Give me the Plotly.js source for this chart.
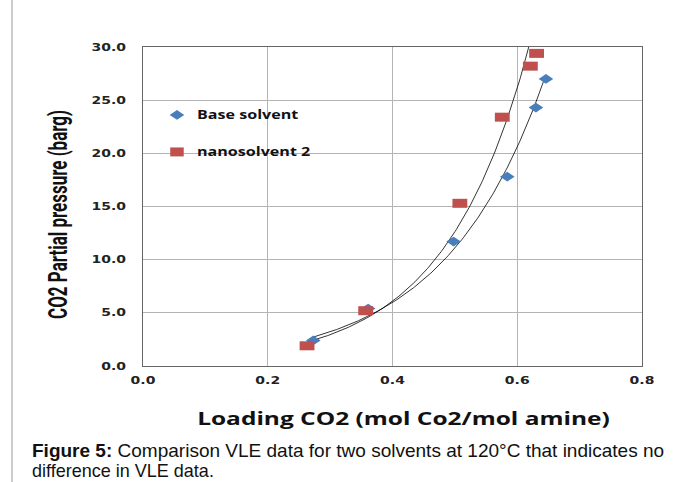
<!DOCTYPE html>
<html>
<head>
<meta charset="utf-8">
<script src="https://cdn.plot.ly/plotly-3.0.1.min.js"></script>
<style>html,body{margin:0;padding:0;background:#fff;}#chart{width:683px;height:482px;}</style>
</head>
<body>
<div id="chart"></div>
<script>
// Data
const seriesNames = ["Base solvent", "nanosolvent 2"];
const baseLoading = [0.273, 0.361, 0.498, 0.584, 0.630, 0.646];
const basePressure = [2.4, 5.4, 11.7, 17.8, 24.3, 27.0];
const nanoLoading = [0.263, 0.357, 0.508, 0.576, 0.621, 0.631];
const nanoPressure = [1.9, 5.2, 15.3, 23.4, 28.2, 29.4];
const xTickVals = [0.0, 0.2, 0.4, 0.6, 0.8];
const yTickVals = [0, 5, 10, 15, 20, 25, 30];

// Exponential trendline (least squares on ln y), like a spreadsheet trendline
function expFit(xs, ys) {
  const n = xs.length;
  let sx = 0, sy = 0, sxx = 0, sxy = 0;
  for (let i = 0; i < n; i++) {
    const ly = Math.log(ys[i]);
    sx += xs[i]; sy += ly; sxx += xs[i] * xs[i]; sxy += xs[i] * ly;
  }
  const b = (n * sxy - sx * sy) / (n * sxx - sx * sx);
  const a = Math.exp((sy - b * sx) / n);
  return x => a * Math.exp(b * x);
}
function trend(xs, ys) {
  const f = expFit(xs, ys);
  const x0 = Math.min(...xs), x1 = Math.max(...xs);
  const tx = [], ty = [];
  for (let i = 0; i <= 200; i++) {
    const x = x0 + (x1 - x0) * i / 200;
    tx.push(x); ty.push(f(x));
  }
  return {tx, ty};
}
const tb = trend(baseLoading, basePressure);
const tn = trend(nanoLoading, nanoPressure);

const traces = [
  {x: tb.tx, y: tb.ty, mode: 'lines', line: {color: '#000', width: 0.8}, showlegend: false, hoverinfo: 'skip'},
  {x: tn.tx, y: tn.ty, mode: 'lines', line: {color: '#000', width: 0.8}, showlegend: false, hoverinfo: 'skip'},
  {x: baseLoading, y: basePressure, mode: 'markers', name: seriesNames[0], legendgroup: 'a',
   marker: {symbol: 'diamond', size: 7.5, color: '#4a7ebb'}},
  {x: nanoLoading, y: nanoPressure, mode: 'markers', name: seriesNames[1], legendgroup: 'b',
   marker: {symbol: 'square', size: 9, color: '#c0504d'}}
];

const tickFont = {family: 'DejaVu Sans', size: 10, color: '#222', weight: 'bold'};
const layout = {
  width: 683, height: 482,
  margin: {l: 143, r: 41, t: 47, b: 116},
  paper_bgcolor: '#fff', plot_bgcolor: '#fff',
  showlegend: true,
  legend: {x: 0.028, y: 0.8325, xanchor: 'left', yanchor: 'top', bgcolor: 'rgba(0,0,0,0)',
    traceorder: 'grouped', tracegroupgap: 18,
    font: {family: 'Open Sans', size: 11.5, color: '#111', weight: 'bold'}},
  xaxis: {range: [0, 0.8], tickvals: xTickVals, tickformat: '.1f', showgrid: true,
    gridcolor: '#b4b4b4', gridwidth: 1, zeroline: false, showline: true, linecolor: '#666',
    linewidth: 1, mirror: true, ticks: '', ticklabelstandoff: 5, tickfont: tickFont,
    title: {text: 'Loading CO2 (mol Co2/mol amine)', standoff: 27,
      font: {family: 'Open Sans', size: 17.5, color: '#111', weight: 'bold'}}},
  yaxis: {range: [0, 30], tickvals: yTickVals, tickformat: '.1f', showgrid: true,
    gridcolor: '#b4b4b4', gridwidth: 1, zeroline: false, showline: true, linecolor: '#666',
    linewidth: 1, mirror: true, ticks: '', ticklabelstandoff: 14, tickfont: tickFont,
    title: {text: 'CO2 Partial pressure (barg)', standoff: 32,
      font: {family: 'Liberation Sans Narrow, Roboto, sans-serif', size: 17, color: '#111', weight: 'bold'}}},
  shapes: [
    {type: 'line', xref: 'paper', yref: 'paper', x0: -0.2625, x1: -0.2625, y0: -0.37, y1: 1.15,
     line: {color: '#999', width: 1}}
  ],
  annotations: [
    {xref: 'paper', yref: 'paper', x: -0.226, y: -0.267, xanchor: 'left', yanchor: 'middle', showarrow: false,
     align: 'left', text: '<b>Figure 5:</b> Comparison VLE data for two solvents at 120°C that indicates no',
     font: {family: 'Liberation Sans', size: 17.5, color: '#111'}},
    {xref: 'paper', yref: 'paper', x: -0.226, y: -0.328, xanchor: 'left', yanchor: 'middle', showarrow: false,
     align: 'left', text: 'difference in VLE data.',
     font: {family: 'Liberation Sans', size: 17.5, color: '#111'}}
  ]
};

// The reference picture is horizontally stretched; reproduce that on the drawn text/markers
function stretch(el, sx, mode, dx, dy) {
  const parent = el.parentNode;
  const r = el.getBoundingClientRect();
  const ctm = parent.getScreenCTM();
  const oxs = mode === 'left' ? r.left : mode === 'right' ? r.right : (r.left + r.right) / 2;
  const ox = (oxs - ctm.e) / ctm.a;
  const g = document.createElementNS('http://www.w3.org/2000/svg', 'g');
  g.setAttribute('transform', 'translate(' + (dx || 0) + ',' + (dy || 0) + ') translate(' + ox + ',0) scale(' + sx + ',1) translate(' + (-ox) + ',0)');
  parent.insertBefore(g, el);
  g.appendChild(el);
}
const gd = document.getElementById('chart');
Plotly.newPlot(gd, traces, layout, {displayModeBar: false, staticPlot: true}).then(() => {
  gd.querySelectorAll('.legend [clip-path]').forEach(e => e.removeAttribute('clip-path'));
  gd.querySelectorAll('.ytick text').forEach(t => stretch(t, 1.4, 'right'));
  gd.querySelectorAll('.xtick text').forEach(t => stretch(t, 1.4, 'center'));
  gd.querySelectorAll('.g-xtitle text').forEach(t => stretch(t, 1.4, 'center', 11, 0));
  gd.querySelectorAll('.g-ytitle text').forEach(t => stretch(t, 1.5, 'center', 0, 8));
  gd.querySelectorAll('.legendtext').forEach(t => stretch(t, 1.4, 'left'));
  gd.querySelectorAll('.annotation-text').forEach((t, i) => stretch(t, i === 0 ? 1.087 : 1.03, 'left'));
  const traceGs = gd.querySelectorAll('.scatterlayer .trace');
  traceGs.forEach((tg, i) => {
    const s = i === 2 ? 1.5 : 1.65;
    tg.querySelectorAll('path.point').forEach(p => stretch(p, s, 'center'));
  });
  gd.querySelectorAll('.legendpoints').forEach(lp => {
    lp.querySelectorAll('path.scatterpts').forEach(p => stretch(p, 1.5, 'center'));
  });
});
</script>
</body>
</html>
